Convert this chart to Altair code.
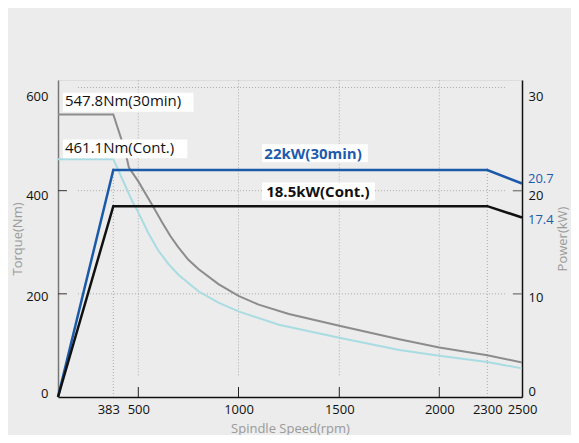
import altair as alt
import pandas as pd

# ---- data ----
speed_30 = [0, 383, 438, 456, 500, 573, 620, 660, 700, 750, 800, 900, 1000, 1100, 1250, 1500, 1800, 2000, 2300, 2500]
torque_30 = [547.8, 547.8, 478, 445, 418, 370, 338, 312, 290, 266, 248, 219, 196, 179, 161, 138, 112, 96, 81, 67]
speed_c = [0, 383, 470, 500, 550, 598, 650, 700, 800, 900, 1000, 1200, 1500, 1800, 2000, 2300, 2500]
torque_c = [461.1, 461.1, 381, 358, 318, 285, 258, 237, 205, 183, 166, 140, 115, 91, 80, 68, 55.5]
speed_p = [0, 383, 2300, 2500]
power_30 = [0, 22, 22, 20.7]
power_c = [0, 18.5, 18.5, 17.4]

x_ticks = [383, 500, 1000, 1500, 2000, 2300, 2500]
torque_ticks = [0, 200, 400, 600]
power_ticks = [0, 10, 20, 30]

torque_labels = ["547.8Nm(30min)", "461.1Nm(Cont.)"]
power_labels = ["22kW(30min)", "18.5kW(Cont.)"]
end_labels = ["20.7", "17.4"]

# ---- scales ----
xscale = alt.Scale(domain=[0, 383, 500, 1000, 1500, 2000, 2300, 2500],
                   range=[0, 55.3, 80.3, 180.5, 281.3, 381.3, 429.3, 464])
T_TOP = 614.6
tscale = alt.Scale(domain=[0, T_TOP], nice=False, zero=False)
pscale = alt.Scale(domain=[0, T_TOP / 20], nice=False, zero=False)


def offsets(pairs, default):
    return {"condition": [{"test": f"datum.value == {v}", "value": o} for v, o in pairs],
            "value": default}


xaxis = alt.Axis(values=x_ticks, format="d", title="Spindle Speed(rpm)", grid=False, ticks=False,
                 domainColor="#111", domainWidth=1.5, labelPadding=6, labelFlush=False,
                 labelFontSize=13, labelColor="#111", titleColor="#9a9a9a",
                 titleFontSize=13, titleFontWeight="normal",
                 titleY=35, titleBaseline="alphabetic",
                 labelOffset={"condition": {"test": "datum.value == 383", "value": -5}, "value": 0})
taxis = alt.Axis(values=torque_ticks, format="d", title="Torque(Nm)", grid=False, ticks=False,
                 domainColor="#777", domainWidth=1.5, labelPadding=10, labelFontSize=13,
                 labelColor="#111", titleColor="#9a9a9a", titleFontSize=13,
                 titleFontWeight="normal", titlePadding=1,
                 labelOffset=offsets([(600, 9), (400, 5), (0, -4)], 2.5))
paxis = alt.Axis(values=power_ticks, format="d", title="Power(kW)", orient="right", grid=False, ticks=False,
                 domainColor="#111", domainWidth=1.5, labelPadding=6, labelFontSize=13,
                 labelColor="#111", titleColor="#9a9a9a", titleFontSize=13,
                 titleFontWeight="normal", titlePadding=27, titleAngle=270,
                 labelOffset=offsets([(30, 9), (20, 4.5), (0, -6)], 4))


def X(field="speed"):
    return alt.X(f"{field}:Q", scale=xscale, axis=xaxis)


def YT(field):
    return alt.Y(f"{field}:Q", scale=tscale, axis=taxis)


def YP(field):
    return alt.Y(f"{field}:Q", scale=pscale, axis=paxis)


grid_dash = dict(color="#aaaaaa", strokeDash=[1, 2], strokeWidth=1)

# vertical grid
vgrid = pd.DataFrame({"speed": [383, 500, 1000, 1500, 2000, 2300],
                      "lo": [0, 42, 42, 42, 42, 0],
                      "hi": [447, T_TOP, T_TOP, T_TOP, T_TOP, 447]})
vgrid_l = alt.Chart(vgrid).mark_rule(**grid_dash).encode(x=X(), y=YT("lo"), y2="hi")

# horizontal grid
hgrid = pd.DataFrame({"t": [200, 400, 600], "x0": [138] * 3, "x1": [2407] * 3})
hgrid_l = alt.Chart(hgrid).mark_rule(**grid_dash).encode(x=X("x0"), x2="x1", y=YT("t"))

# inward ticks
xt = pd.DataFrame({"speed": [500, 1000, 1500, 2000], "lo": [0] * 4, "hi": [19.4] * 4})
xt_l = alt.Chart(xt).mark_rule(color="#222", strokeWidth=1).encode(x=X(), y=YT("lo"), y2="hi")
lt = pd.DataFrame({"t": [200, 400], "x0": [0, 0], "x1": [62, 62]})
lt_l = alt.Chart(lt).mark_rule(color="#333", strokeWidth=1).encode(x=X("x0"), x2="x1", y=YT("t"))

# torque curves
t30 = pd.DataFrame({"speed": speed_30, "torque": torque_30})
tc = pd.DataFrame({"speed": speed_c, "torque": torque_c})
t30_l = alt.Chart(t30).mark_line(strokeWidth=2, color="#8c8c8c", strokeJoin="miter").encode(
    x=X(), y=YT("torque"), order="speed:Q")
tc_l = alt.Chart(tc).mark_line(strokeWidth=2, color="#a9dce2", strokeJoin="miter").encode(
    x=X(), y=YT("torque"), order="speed:Q")

# torque labels with white boxes
tlab = pd.DataFrame({"label": torque_labels, "speed": [48, 48], "t": [573, 482],
                     "bx0": [35, 35], "bx1": [775, 745], "by0": [553, 463], "by1": [590, 499]})
tbox = alt.Chart(tlab).mark_rect(color="white").encode(x=X("bx0"), x2="bx1", y=YT("by0"), y2="by1")
ttext = alt.Chart(tlab).mark_text(align="left", baseline="middle", fontSize=15, color="#111").encode(
    x=X(), y=YT("t"), text="label:N")

torque_layer = alt.layer(vgrid_l, hgrid_l, xt_l, lt_l, tc_l, t30_l, tbox, ttext)

# power curves
p30 = pd.DataFrame({"speed": speed_p, "power": power_30})
pc = pd.DataFrame({"speed": speed_p, "power": power_c})
p30_l = alt.Chart(p30).mark_line(strokeWidth=2.5, color="#1b5aa8", strokeJoin="miter").encode(
    x=X(), y=YP("power"), order="speed:Q")
pc_l = alt.Chart(pc).mark_line(strokeWidth=2.5, color="#111111", strokeJoin="miter").encode(
    x=X(), y=YP("power"), order="speed:Q")

rt = pd.DataFrame({"p": [10, 20], "x0": [2447, 2447], "x1": [2500, 2500]})
rt_l = alt.Chart(rt).mark_rule(color="#888", strokeWidth=1.5).encode(x=X("x0"), x2="x1", y=YP("p"))

plab = pd.DataFrame({"label": power_labels, "speed": [1370, 1394], "p": [23.6, 19.9],
                     "bx0": [1117, 1117], "bx1": [1643, 1678], "by0": [22.75, 19.06], "by1": [24.5, 20.8]})
pbox = alt.Chart(plab).mark_rect(color="white").encode(x=X("bx0"), x2="bx1", y=YP("by0"), y2="by1")
ptext30 = alt.Chart(plab.iloc[[0]]).mark_text(align="center", baseline="middle", fontSize=15,
                                               fontWeight="bold", color="#1e5bab").encode(
    x=X(), y=YP("p"), text="label:N")
ptextc = alt.Chart(plab.iloc[[1]]).mark_text(align="center", baseline="middle", fontSize=15,
                                              fontWeight="bold", color="#111111").encode(
    x=X(), y=YP("p"), text="label:N")

elab = pd.DataFrame({"label": end_labels, "speed": [2500, 2500], "p": [21.15, 17.2]})
etext = alt.Chart(elab).mark_text(align="left", baseline="middle", fontSize=13, dx=6,
                                  color="#1e5bab").encode(
    x=X(), y=YP("p"), text="label:N")

power_layer = alt.layer(rt_l, p30_l, pc_l, pbox, ptext30, ptextc, etext)

chart = alt.layer(torque_layer, power_layer).resolve_scale(y="independent").properties(
    width=464, height=317,
    padding={"left": 50, "top": 72, "right": 49, "bottom": 38},
    autosize=alt.AutoSizeParams(type="none"),
    background="#ebeceb",
).configure_view(strokeWidth=0, fill="#fcfcfc").configure(font="Open Sans")

chart.save("out.html", embed_options={"renderer": "svg", "actions": False})
